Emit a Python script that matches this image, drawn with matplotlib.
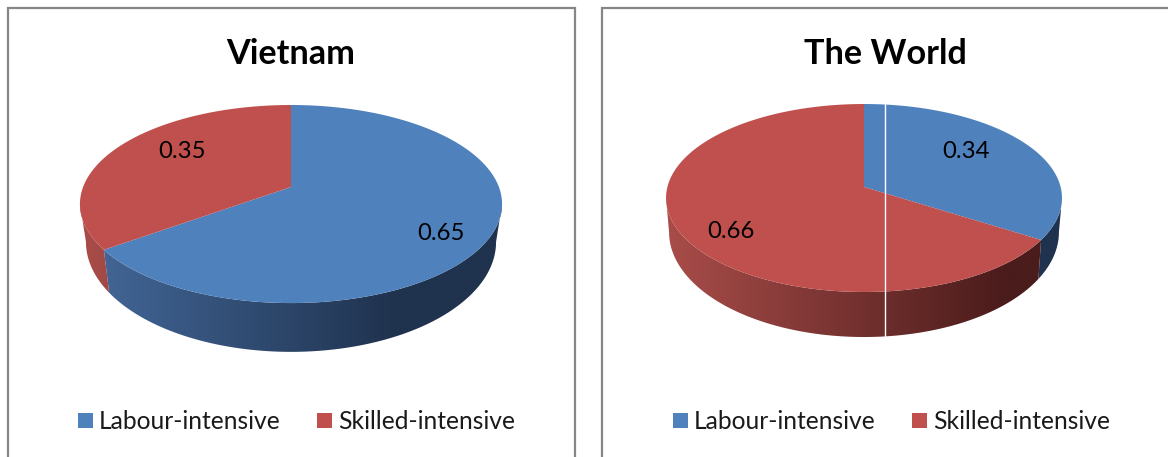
"""Two 3-D style pies of export shares, Vietnam against the world."""

import matplotlib

matplotlib.use("Agg")
import matplotlib.pyplot as plt
import numpy as np
from matplotlib.colors import to_rgb
from matplotlib.patches import Polygon, Rectangle

plt.rcParams["font.family"] = ["Lato", "DejaVu Sans"]

categories = ["Labour-intensive", "Skilled-intensive"]
vietnam_values = [0.65, 0.35]
world_values = [0.34, 0.66]

top_colors = ["#4F81BD", "#BF504D"]
# side wall shading, left to right
side_colors = [("#44699B", "#1F324E"), ("#AA4D4A", "#4A1C1B")]

W, H = 1168, 457


def rim(phi, p, bottom=False):
    """Perspective projection of a rim point, phi clockwise from 12 o'clock."""
    u, v = np.sin(phi), np.cos(phi)
    w = 1 + p["k"] * v
    if bottom:
        return p["cx"] + p["a2"] * u / w, p["y2"] - p["b2"] * v / w
    return p["cx"] + p["a"] * u / w, p["y"] - p["b"] * v / w


def draw_side(ax, start, end, idx, p):
    """Front wall between two angles, filled with a horizontal gradient."""
    right = np.pi / 2 + np.arcsin(p["k"])
    left = 2 * np.pi - right
    lo, hi = max(start, right), min(end, left)
    if hi <= lo:
        return
    phi = np.linspace(lo, hi, 200)
    xt, yt = rim(phi, p)
    xb, yb = rim(phi[::-1], p, bottom=True)
    poly = Polygon(
        np.column_stack([np.r_[xt, xb], np.r_[yt, yb]]),
        closed=True, fc="none", ec="none", zorder=2,
    )
    ax.add_patch(poly)
    c0, c1 = np.array(to_rgb(side_colors[idx][0])), np.array(to_rgb(side_colors[idx][1]))
    t = np.clip(np.linspace(0, 1, 400) / p["shade_end"], 0, 1)[None, :, None]
    grad = c0[None, None, :] + (c1 - c0)[None, None, :] * t
    x0, x1 = p["cx"] - p["a"] * 1.02, p["cx"] + p["a"] * 1.02
    im = ax.imshow(
        grad, extent=(x0, x1, H, 0), aspect="auto", zorder=2, interpolation="bilinear"
    )
    im.set_clip_path(poly)


def draw_pie(ax, values, p):
    edges = 2 * np.pi * np.r_[0, np.cumsum(values)]
    for i in range(len(values)):
        draw_side(ax, edges[i], edges[i + 1], i, p)
    for i in range(len(values)):
        phi = np.linspace(edges[i], edges[i + 1], 300)
        xs, ys = rim(phi, p)
        xs = np.r_[p["cx"], xs]
        ys = np.r_[p["y"], ys]
        ax.add_patch(
            Polygon(np.column_stack([xs, ys]), closed=True, fc=top_colors[i], ec="none", zorder=3)
        )


def draw_panel(ax, title, values, p):
    # chart frame runs off the bottom of the page
    ax.plot(
        [p["frame"][0], p["frame"][0], p["frame"][1], p["frame"][1]],
        [H + 5, 8, 8, H + 5],
        color="#868686", lw=1.6, solid_joinstyle="miter", zorder=1,
    )
    draw_pie(ax, values, p)
    ax.text(p["title_x"], 53.5, title, ha="center", va="center", fontsize=24.7, fontweight="bold", color="black", zorder=5)
    for val, (lx, ly) in zip(values, p["labels"]):
        ax.text(lx, ly, f"{val:.2f}", ha="center", va="center", fontsize=17.2, color="black", zorder=5)
    for i, name in enumerate(categories):
        sx = p["legend"][i]
        ax.add_patch(Rectangle((sx, 413), 15, 15, fc=top_colors[i], ec="none", zorder=4))
        ax.text(sx + 21, 421.5, name, ha="left", va="center", fontsize=17.7, color="#1a1a1a", zorder=5)


vietnam_geom = dict(
    cx=291, y=187, a=207.9, b=96.1, k=0.172, a2=202.0, b2=106.7, y2=223,
    shade_end=0.75, frame=(8, 574.5), title_x=291,
    labels=[(441, 233), (182, 151)], legend=(78, 317),
)
world_geom = dict(
    cx=864, y=187, a=196.6, b=92.7, k=0.117, a2=193.6, b2=103.5, y2=219.8,
    shade_end=0.85, frame=(602, W + 5), title_x=885,
    labels=[(966, 151), (731, 231)], legend=(673, 912),
)

fig = plt.figure(figsize=(W / 100, H / 100), dpi=100)
ax = fig.add_axes([0, 0, 1, 1])

draw_panel(ax, "Vietnam", vietnam_values, vietnam_geom)
draw_panel(ax, "The World", world_values, world_geom)

# thin white join running down the world pie
ax.plot([884.5, 884.5], [103, 338], color="white", lw=1.0, zorder=4)

ax.set_xlim(0, W)
ax.set_ylim(H, 0)
ax.axis("off")
fig.savefig("out.png", dpi=100, facecolor="white")
